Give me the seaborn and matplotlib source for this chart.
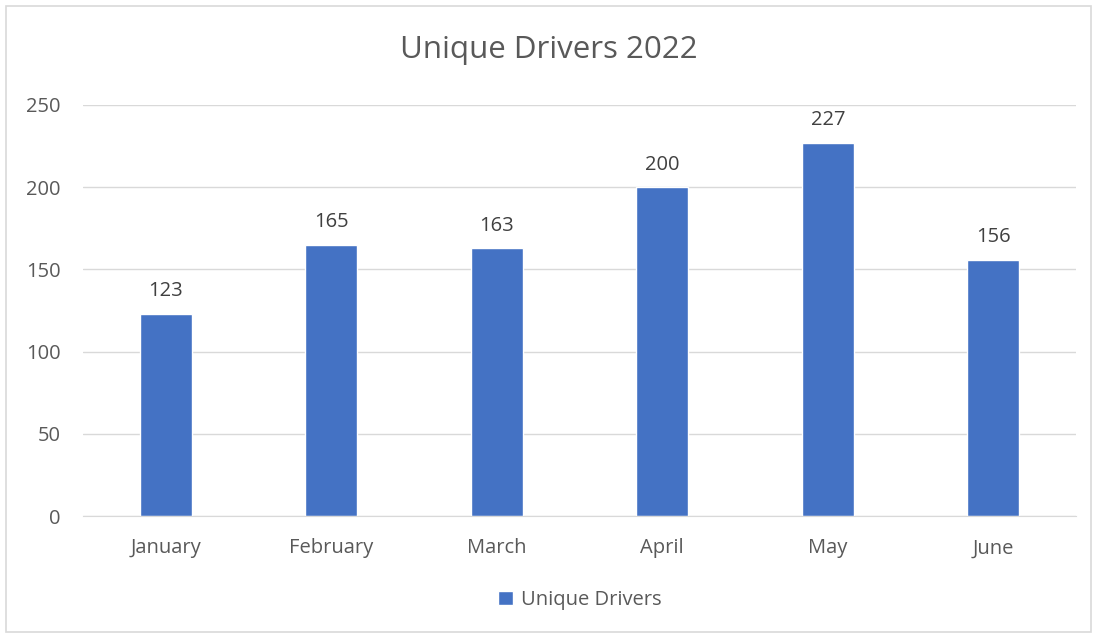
import pandas as pd
import matplotlib
matplotlib.use("Agg")
import matplotlib.pyplot as plt
import seaborn as sns
from matplotlib.patches import Rectangle

# data
months = ["January", "February", "March", "April", "May", "June"]
drivers = [123, 165, 163, 200, 227, 156]
series_name = "Unique Drivers"

df = pd.DataFrame({"month": months, "drivers": drivers})

sns.set_style("white")
plt.rcParams["font.family"] = ["Open Sans", "DejaVu Sans"]

text_color = "#595959"
label_color = "#404040"
bar_color = "#4472C4"
grid_color = "#D9D9D9"

fig = plt.figure(figsize=(10.97, 6.35), dpi=100)
ax = fig.add_axes([83 / 1097, 1 - 516 / 635, (1076 - 83) / 1097, (516 - 105) / 635])

sns.barplot(data=df, x="month", y="drivers", color=bar_color, width=0.314,
            saturation=1, ax=ax, label=series_name)

ax.set_ylim(0, 250)
ax.set_yticks(range(0, 251, 50))
ax.grid(axis="y", color=grid_color, linewidth=1)
ax.set_axisbelow(True)
for s in ["top", "right", "left"]:
    ax.spines[s].set_visible(False)
ax.spines["bottom"].set_color(grid_color)
ax.tick_params(axis="both", length=0, labelsize=14.5, colors=text_color)
ax.tick_params(axis="x", pad=16)
ax.tick_params(axis="y", pad=16)
ax.set_xlabel("")
ax.set_ylabel("")

for c in ax.containers:
    ax.bar_label(c, padding=9, fontsize=14.5, color=label_color)

fig.text(0.5, 1 - 50 / 635, "Unique Drivers 2022", ha="center", va="center",
         fontsize=22.5, color=text_color)

ax.legend(loc="center", bbox_to_anchor=(0.5, (600 - 516) / -(516 - 105)),
          frameon=False, fontsize=14.5, labelcolor=text_color,
          handlelength=0.75, handleheight=0.75, handletextpad=0.4)

# chart border
fig.patches.append(Rectangle((6 / 1097, 3 / 635), 1085 / 1097, 626 / 635,
                             transform=fig.transFigure, fill=False,
                             edgecolor="#D9D9D9", linewidth=1.2))

fig.savefig("out.png", dpi=100)
